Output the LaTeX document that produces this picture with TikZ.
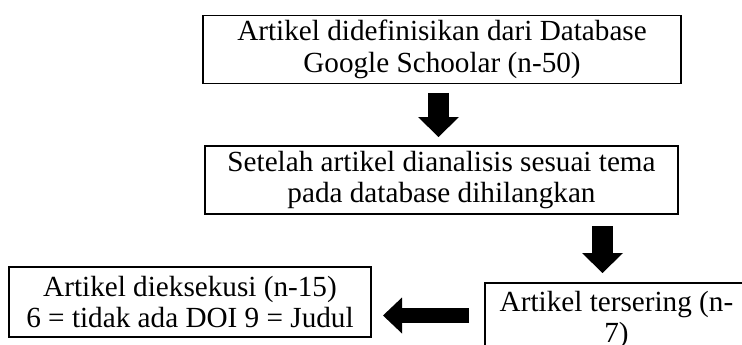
\documentclass[tikz,border=0pt]{standalone}
\usepackage{fontspec}
\setmainfont{Liberation Serif}
\usetikzlibrary{arrows.meta}
\begin{document}
\begin{tikzpicture}[x=1pt,y=-1pt,
  box/.style={draw=black, line width=1.8pt, rectangle, align=center, inner sep=0pt,
    font=\fontsize{29.2}{31.5}\selectfont},
  blockarrow/.style={line width=21pt, -{Triangle[width=41pt,length=20pt,line width=0pt]}}]
\useasboundingbox (0,0) rectangle (742,345);
\clip (0,0) rectangle (742,345);
\fill[white] (0,0) rectangle (742,345);
\node[box, minimum width=478pt, minimum height=68pt] (b1) at (442,49.5)
  {Artikel didefinisikan dari Database\\Google Schoolar (n-50)};
\node[box, minimum width=473pt, minimum height=68pt] (b2) at (441.5,180)
  {Setelah artikel dianalisis sesuai tema\\pada database dihilangkan};
\node[box, minimum width=263pt, minimum height=74pt] (b3) at (616.5,320)
  {Artikel tersering (n-\\7)};
\node[box, minimum width=362pt, minimum height=70pt] (b4) at (190,302)
  {Artikel dieksekusi (n-15)\\6 = tidak ada DOI 9 = Judul};
\coordinate (a1s) at (438.5,93);
\coordinate (a1e) at (438.5,137);
\coordinate (a2s) at (602.5,226);
\coordinate (a2e) at (602.5,273);
\coordinate (a3s) at (469,315.5);
\coordinate (a3e) at (383,315.5);
\draw[blockarrow] (a1s) -- (a1e);
\draw[blockarrow] (a2s) -- (a2e);
\draw[blockarrow, line width=15pt, -{Triangle[width=36pt,length=19pt,line width=0pt]}] (a3s) -- (a3e);
\end{tikzpicture}
\end{document}
